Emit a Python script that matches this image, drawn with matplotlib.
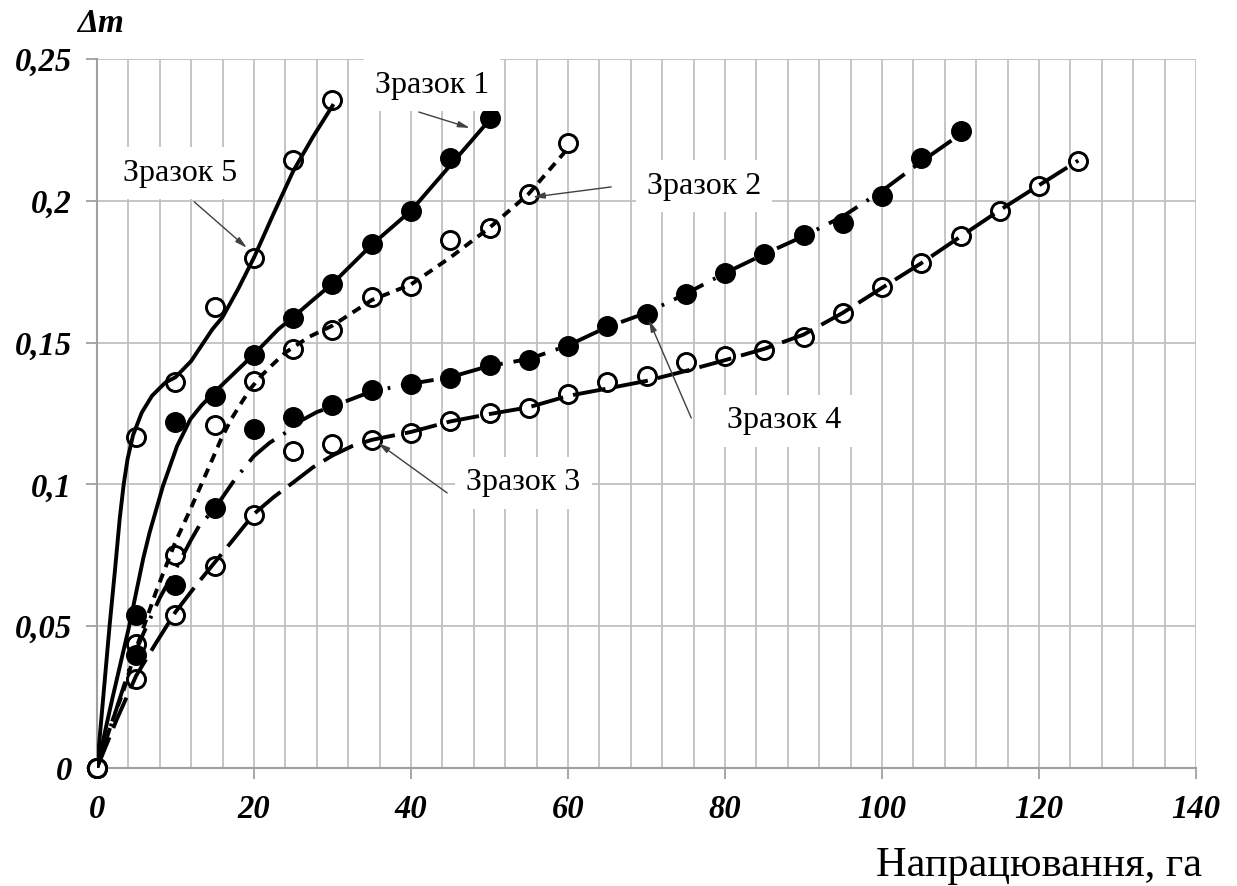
import matplotlib
matplotlib.use("Agg")
import matplotlib.pyplot as plt
import numpy as np

plt.rcParams['font.family'] = ['Liberation Serif', 'DejaVu Serif']

# measured points (markers)
x5 = [0, 5, 10, 15, 20, 25, 30]
y5 = [0, 0.1167, 0.1362, 0.1625, 0.180, 0.2144, 0.2355]

x1 = [0, 5, 10, 15, 20, 25, 30, 35, 40, 45, 50]
y1 = [0, 0.0541, 0.1220, 0.1312, 0.1455, 0.1587, 0.1705, 0.1848, 0.1964, 0.2152, 0.2293]

x2 = [0, 5, 10, 15, 20, 25, 30, 35, 40, 45, 50, 55, 60]
y2 = [0, 0.0438, 0.0752, 0.1210, 0.1365, 0.1476, 0.1545, 0.1660, 0.1700, 0.1863,
      0.1904, 0.2023, 0.2203]

x4 = [0, 5, 10, 15, 20, 25, 30, 35, 40, 45, 50, 55, 60, 65, 70, 75, 80, 85, 90, 95,
      100, 105, 110]
y4 = [0, 0.0397, 0.0645, 0.0915, 0.1195, 0.1238, 0.1280, 0.1333, 0.1355, 0.1375,
      0.1420, 0.1440, 0.1488, 0.1558, 0.1600, 0.1670, 0.1745, 0.1812, 0.1880, 0.1922,
      0.2016, 0.2150, 0.2245]

x3 = [0, 5, 10, 15, 20, 25, 30, 35, 40, 45, 50, 55, 60, 65, 70, 75, 80, 85, 90, 95,
      100, 105, 110, 115, 120, 125]
y3 = [0, 0.0315, 0.0540, 0.0714, 0.0893, 0.1116, 0.1141, 0.1158, 0.1180, 0.1225,
      0.1250, 0.1268, 0.1320, 0.1360, 0.1382, 0.1432, 0.1452, 0.1475, 0.1520, 0.1604,
      0.1695, 0.1782, 0.1875, 0.1964, 0.2053, 0.2142]

# trend curves
c5x = [0, 0.8, 1.6, 2.3, 2.9, 3.4, 3.9, 4.6, 5.7, 7, 8.7, 10, 12, 14.7, 16, 18, 20,
       22.5, 25, 27.5, 30]
c5y = [0, 0.025, 0.05, 0.07, 0.088, 0.1, 0.109, 0.1174, 0.1253, 0.1312, 0.1359, 0.1378,
       0.1435, 0.1547, 0.159, 0.169, 0.18, 0.1955, 0.2105, 0.2225, 0.2335]

c1x = [0, 2, 4.1, 5.9, 6.7, 8.4, 10.2, 11.9, 13.3, 14.7, 17.1, 20, 23.1, 25, 27.5, 30,
       35, 40, 45, 50]
c1y = [0, 0.025, 0.05, 0.074, 0.083, 0.0994, 0.1135, 0.123, 0.1278, 0.1318, 0.1382,
       0.1459, 0.1547, 0.159, 0.165, 0.1708, 0.1845, 0.1965, 0.2125, 0.2285]

c2x = [0, 2, 3.35, 5.1, 7.5, 9.94, 11.9, 13.2, 14.5, 15.8, 17.1, 18.4, 19.65, 20.9,
       22.2, 24, 27, 30, 35, 40, 45, 50, 55, 60]
c2y = [0, 0.017, 0.027, 0.043, 0.062, 0.0794, 0.0912, 0.0994, 0.1076, 0.1159, 0.123,
       0.1288, 0.1341, 0.1382, 0.1418, 0.1465, 0.152, 0.156, 0.165, 0.1705, 0.18,
       0.1905, 0.2025, 0.2185]

c4x = [0, 2.5, 4.6, 6, 8, 10, 12, 13, 15, 17.5, 20, 22, 24, 26, 28, 30, 35, 40, 45, 50,
       55, 60, 65, 70, 75, 80, 85, 90, 95, 100, 105, 110]
c4y = [0, 0.021, 0.039, 0.048, 0.06, 0.07, 0.0805, 0.0853, 0.0915, 0.1015, 0.11,
       0.1147, 0.1182, 0.1225, 0.1255, 0.1275, 0.1328, 0.1355, 0.1378, 0.1418, 0.1442,
       0.149, 0.1555, 0.1605, 0.1672, 0.1745, 0.1812, 0.1875, 0.1945, 0.2035, 0.2138,
       0.2235]

c3x = [0, 2.5, 5, 7.5, 10, 12.5, 15, 17.5, 20, 22.5, 25, 27.5, 30, 32.5, 35, 40, 45,
       50, 55, 60, 65, 70, 75, 80, 85, 90, 95, 100, 105, 110, 115, 120, 125]
c3y = [0, 0.017, 0.0326, 0.044, 0.055, 0.064, 0.0725, 0.081, 0.0896, 0.0955, 0.1007,
       0.106, 0.1102, 0.1135, 0.1157, 0.1185, 0.1222, 0.1248, 0.1272, 0.1312, 0.1338,
       0.1365, 0.140, 0.1438, 0.1478, 0.1528, 0.1605, 0.1693, 0.178, 0.1874, 0.1967,
       0.2055, 0.2142]

yticks = [0, 0.05, 0.1, 0.15, 0.2, 0.25]
ytick_labels = ['0', '0,05', '0,1', '0,15', '0,2', '0,25']
xticks = [0, 20, 40, 60, 80, 100, 120, 140]

# label text, text position, arrow tail, arrow head
labels = [
    ('Зразок 1', (42.7, 0.2408), (41.0, 0.2313), (47.5, 0.2257)),
    ('Зразок 5', (10.6, 0.2098), (12.4, 0.1996), (19.1, 0.1834)),
    ('Зразок 2', (77.3, 0.2052), (65.5, 0.2049), (55.5, 0.2013)),
    ('Зразок 4', (87.5, 0.1224), (75.7, 0.1234), (70.3, 0.1580)),
    ('Зразок 3', (54.3, 0.1005), (44.6, 0.0970), (35.8, 0.1146)),
]

fig = plt.figure(figsize=(12.37, 8.86), dpi=100)
ax = fig.add_axes([0.0784, 0.1332, 0.8885, 0.8002])

grid_c = '#c0c0c0'
ms = 13
mew = 2.1
lw = 2.8

# markers first, trend lines over them
ax.plot(x5, y5, 'o', ms=ms, mfc='white', mec='black', mew=mew, zorder=3, clip_on=False)
ax.plot(x1, y1, 'o', ms=ms, mfc='black', mec='black', mew=mew, zorder=3, clip_on=False)
ax.plot(x2, y2, 'o', ms=ms, mfc='white', mec='black', mew=mew, zorder=3, clip_on=False)
ax.plot(x4, y4, 'o', ms=ms, mfc='black', mec='black', mew=mew, zorder=3, clip_on=False)
ax.plot(x3, y3, 'o', ms=ms, mfc='white', mec='black', mew=mew, zorder=3, clip_on=False)

ax.plot(c5x, c5y, '-', color='black', lw=lw, zorder=4, solid_joinstyle='round')
ax.plot(c1x, c1y, '-', color='black', lw=lw, zorder=4, solid_joinstyle='round')
ax.plot(c2x, c2y, color='black', lw=lw, zorder=4, dashes=(2.4, 1.8))
ax.plot(c4x, c4y, color='black', lw=lw, zorder=4, dashes=(8.5, 2.8, 0.7, 2.8))
ax.plot(c3x, c3y, color='black', lw=lw, zorder=4, dashes=(8.5, 2.6))

ax.set_xlim(0, 140)
ax.set_ylim(0, 0.25)
ax.set_xticks(xticks)
ax.set_xticks(np.arange(0, 141, 4), minor=True)
ax.set_xticklabels([str(v) for v in xticks])
ax.set_yticks(yticks)
ax.set_yticklabels(ytick_labels)

ax.set_axisbelow(True)
ax.grid(which='minor', axis='x', color=grid_c, lw=1.3)
ax.grid(which='major', axis='x', color=grid_c, lw=1.3)
ax.grid(which='major', axis='y', color=grid_c, lw=1.3)

for s in ['top', 'right']:
    ax.spines[s].set_visible(False)
for s in ['left', 'bottom']:
    ax.spines[s].set_color('#a0a0a0')
    ax.spines[s].set_linewidth(1.5)

ax.tick_params(which='major', length=8, width=1.3, color='#a0a0a0')
ax.tick_params(axis='x', which='major', pad=11)
ax.tick_params(axis='y', which='major', pad=10)
ax.tick_params(which='minor', length=0)
for t in ax.get_xticklabels() + ax.get_yticklabels():
    t.set_fontweight('bold')
    t.set_fontstyle('italic')
    t.set_fontsize(23.5)

for txt, tpos, tail, head in labels:
    ax.text(tpos[0], tpos[1], txt, ha='center', va='center', fontsize=23, zorder=5,
            bbox=dict(boxstyle='square,pad=0.35', fc='white', ec='none'))
    ax.annotate('', xy=head, xytext=tail, zorder=6,
                arrowprops=dict(arrowstyle='-|>,head_length=0.7,head_width=0.18',
                                color='#404040', lw=1.0, shrinkA=0, shrinkB=0))

fig.text(101 / 1237, 1 - 24 / 886, 'Δm', ha='center', va='center', fontsize=24,
         fontweight='bold', fontstyle='italic')
fig.text(1202 / 1237, 1 - 866 / 886, 'Напрацювання, га', ha='right', va='center',
         fontsize=30.5)

plt.savefig('out.png', dpi=100)
